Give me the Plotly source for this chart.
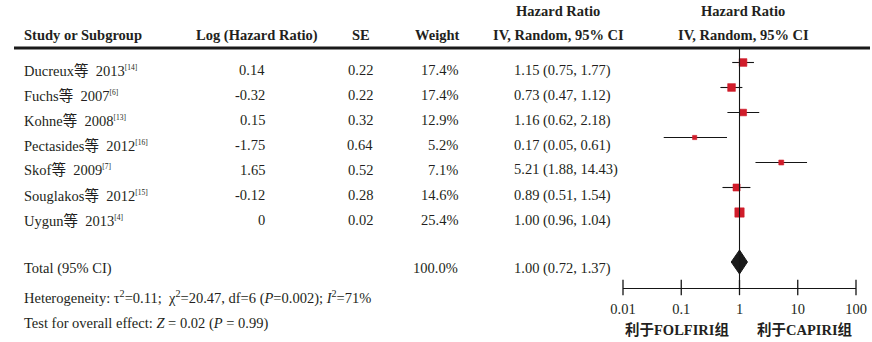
import math
import plotly.graph_objects as go

W, H = 872, 342

studies = ["Ducreux等  2013", "Fuchs等  2007", "Kohne等  2008", "Pectasides等  2012",
           "Skof等  2009", "Souglakos等  2012", "Uygun等  2013"]
refs = ["[14]", "[6]", "[13]", "[16]", "[7]", "[15]", "[4]"]
log_hr = ["0.14", "-0.32", "0.15", "-1.75", "1.65", "-0.12", "0"]
se = ["0.22", "0.22", "0.32", "0.64", "0.52", "0.28", "0.02"]
weights = [17.4, 17.4, 12.9, 5.2, 7.1, 14.6, 25.4]
hr = [1.15, 0.73, 1.16, 0.17, 5.21, 0.89, 1.00]
lo = [0.75, 0.47, 0.62, 0.05, 1.88, 0.51, 0.96]
hi = [1.77, 1.12, 2.18, 0.61, 14.43, 1.54, 1.04]
total_hr, total_lo, total_hi = 1.00, 0.72, 1.37
total_weight = "100.0%"
tick_vals = [0.01, 0.1, 1, 10, 100]
tick_text = ["0.01", "0.1", "1", "10", "100"]

FONT = "Liberation Serif, Noto Sans CJK SC, serif"
TXT = "#231f20"
RED = "#d01c2a"
LINE = "#151515"
FS = 14.5

def px(x):
    return x / W

def py(y):
    return 1 - y / H

AXIS_Y = 288
row_text_y = [70 + 25 * i for i in range(len(studies))]
row_mark_y = [t - 7.5 for t in row_text_y]
total_text_y = 268
total_mark_y = 262

fig = go.Figure()

# CI lines
for i in range(len(studies)):
    fig.add_trace(go.Scatter(x=[lo[i], hi[i]], y=[row_mark_y[i]] * 2, mode="lines",
                             line=dict(color=LINE, width=1.1), showlegend=False,
                             hoverinfo="skip", cliponaxis=False))
# squares
fig.add_trace(go.Scatter(x=hr, y=row_mark_y, mode="markers", opacity=1,
                         marker=dict(symbol="square", color=RED, opacity=1,
                                     size=[1.85 * math.sqrt(w) for w in weights],
                                     line=dict(width=0.6, color=RED)),
                         showlegend=False, cliponaxis=False))
# diamond
fig.add_trace(go.Scatter(x=[total_lo, total_hr, total_hi, total_hr, total_lo],
                         y=[total_mark_y, total_mark_y - 12, total_mark_y, total_mark_y + 12, total_mark_y],
                         mode="lines", fill="toself", fillcolor="#1a1a1a",
                         line=dict(color="#1a1a1a", width=1), showlegend=False, cliponaxis=False))
# tick marks
fig.add_trace(go.Scatter(x=tick_vals, y=[AXIS_Y - 0.5] * len(tick_vals), mode="markers",
                         marker=dict(symbol="line-ns-open", size=11, color=LINE,
                                     line=dict(color=LINE, width=1.3)),
                         showlegend=False, cliponaxis=False, hoverinfo="skip"))

ann = []

def T(x, y, text, anchor="left", bold=False, size=FS):
    if bold:
        text = "<b>" + text + "</b>"
    ann.append(dict(x=px(x), y=py(y), xref="paper", yref="paper", text=text,
                    showarrow=False, xanchor=anchor, yanchor="middle",
                    font=dict(family=FONT, size=size, color=TXT)))

# headers
T(558, 11, "Hazard Ratio", "center", True)
T(743, 11, "Hazard Ratio", "center", True)
T(22, 35, "Study or Subgroup", "left", True)
T(257, 35, "Log (Hazard Ratio)", "center", True)
T(361, 35, "SE", "center", True)
T(461, 35, "Weight", "right", True)
T(558, 35, "IV, Random, 95% CI", "center", True)
T(743, 35, "IV, Random, 95% CI", "center", True)

for i in range(len(studies)):
    y = row_text_y[i]
    T(22, y, studies[i] + "<sup><span style='font-size:7.5px'>" + refs[i] + "</span></sup>")
    T(267, y, log_hr[i], "right")
    T(375, y, se[i], "right")
    T(460, y, f"{weights[i]:.1f}%", "right")
    T(512, y, f"{hr[i]:.2f} ({lo[i]:.2f}, {hi[i]:.2f})")

T(22, total_text_y, "Total (95% CI)")
T(460, total_text_y, total_weight, "right")
T(512, total_text_y, f"{total_hr:.2f} ({total_lo:.2f}, {total_hi:.2f})")
T(22, 297, "Heterogeneity: τ<sup>2</sup>=0.11;  χ<sup>2</sup>=20.47, df=6 (<i>P</i>=0.002); <i>I</i><sup>2</sup>=71%")
T(22, 323, "Test for overall effect: <i>Z</i> = 0.02 (<i>P</i> = 0.99)")
T(677, 330, "利于FOLFIRI组", "center", True)
T(805, 330, "利于CAPIRI组", "center", True)

shapes = [
    dict(type="line", xref="paper", yref="paper", x0=px(14), x1=px(870), y0=py(48), y1=py(48),
         line=dict(color="#1a1a1a", width=3)),
    dict(type="line", xref="x", yref="y", x0=1, x1=1, y0=48, y1=AXIS_Y,
         line=dict(color=LINE, width=1.1)),
]

fig.update_layout(
    width=W, height=H, margin=dict(l=0, r=0, t=0, b=0, autoexpand=False),
    paper_bgcolor="white", plot_bgcolor="white",
    annotations=ann, shapes=shapes, showlegend=False,
    xaxis=dict(type="log", range=[math.log10(0.01), math.log10(100)],
               domain=[px(623), px(856)], showgrid=False, zeroline=False,
               showline=True, linecolor=LINE, linewidth=1.3, automargin=False,
               tickvals=tick_vals, ticktext=tick_text, ticks="",
               ticklabelstandoff=7,
               tickfont=dict(family=FONT, size=FS, color=TXT), fixedrange=True),
    yaxis=dict(range=[AXIS_Y, 0], domain=[py(AXIS_Y), 1], visible=False,
               automargin=False, fixedrange=True),
)

fig.write_html(
    "out.html",
    config={"displayModeBar": False},
    post_script="document.documentElement.style.overflow='hidden';"
                "document.body.style.margin='0';document.body.style.overflow='hidden';",
)
